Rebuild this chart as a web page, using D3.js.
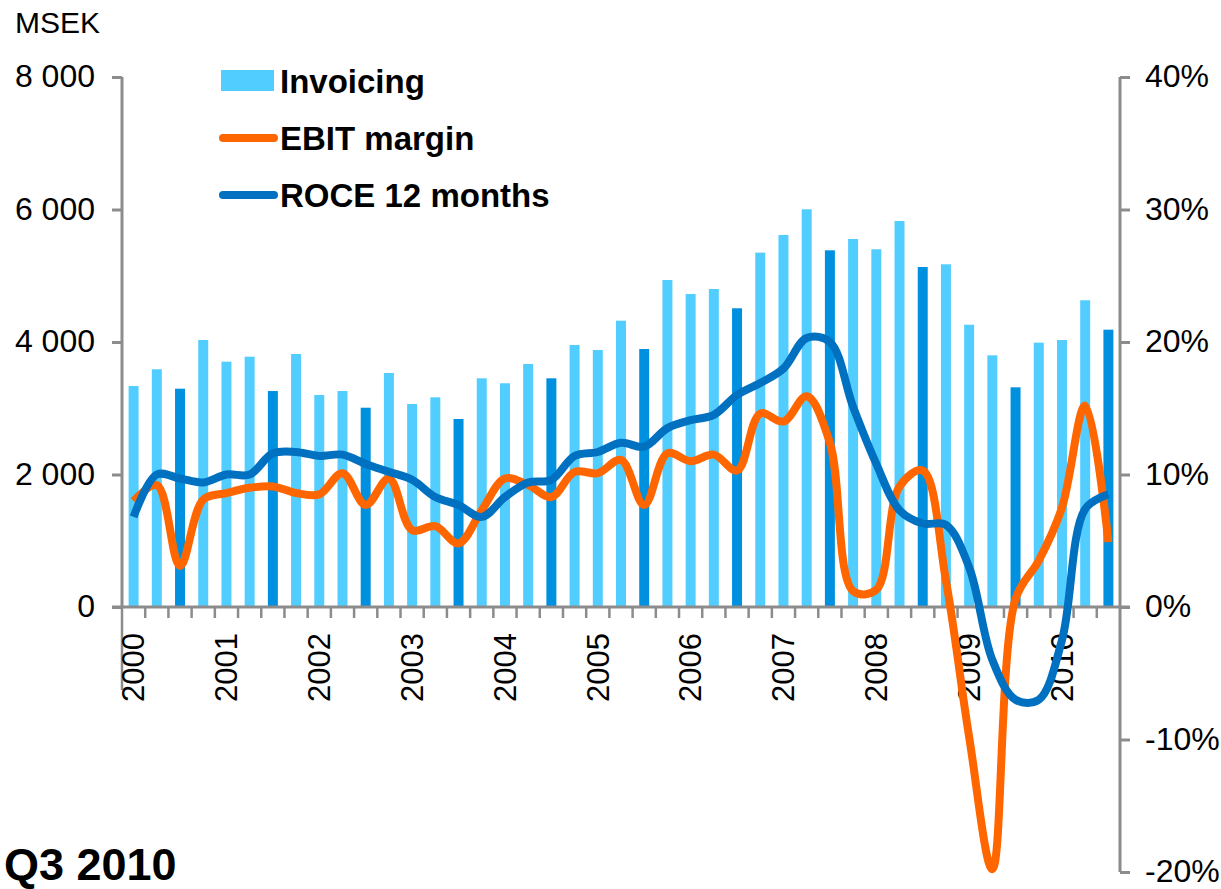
<!DOCTYPE html>
<html>
<head>
<meta charset="utf-8">
<script src="https://cdn.jsdelivr.net/npm/d3@7"></script>
<style>
  body { margin: 0; background: #fff; }
  text { font-family: "Liberation Sans", Arial, sans-serif; }
</style>
</head>
<body>
<div id="chart"></div>
<script>
var years = ['2000', '2001', '2002', '2003', '2004', '2005', '2006', '2007', '2008', '2009', '2010'];
var quarterNames = ['Q1', 'Q2', 'Q3', 'Q4'];

// Invoicing, MSEK per quarter (2000 Q1 - 2010 Q3)
var invoicing = [3336, 3588, 3295, 4030, 3703, 3778, 3260, 3819, 3200, 3260,
  3008, 3532, 3064, 3165, 2838, 3452, 3377, 3668, 3452, 3955,
  3879, 4322, 3894, 4936, 4725, 4800, 4509, 5349, 5615, 6003,
  5384, 5555, 5400, 5826, 5132, 5173, 4261, 3799, 3316, 3990,
  4030, 4630, 4186];

// EBIT margin, %
var ebitMargin = [8.0, 9.2, 3.1, 8.1, 8.6, 9.0, 9.1, 8.6, 8.5, 10.1,
  7.7, 9.7, 5.8, 6.1, 4.8, 7.3, 9.7, 9.2, 8.3, 10.2,
  10.1, 11.1, 7.7, 11.6, 11.0, 11.5, 10.3, 14.6, 14.0, 15.9,
  12.4, 1.2, 1.3, 9.1, 10.3, 2.0, -9.8, -19.8, 0.6, 3.5,
  7.5, 15.2, 4.9];

// ROCE 12 months, %
var roce = [6.8, 10.0, 9.7, 9.4, 10.0, 10.0, 11.6, 11.7, 11.4, 11.5,
  10.8, 10.2, 9.6, 8.3, 7.7, 6.8, 8.3, 9.4, 9.6, 11.4,
  11.7, 12.4, 12.1, 13.5, 14.1, 14.5, 16.0, 16.9, 18.0, 20.3,
  20.0, 15.1, 10.8, 7.3, 6.3, 6.2, 3.0, -4.0, -7.0, -7.0,
  -2.5, 7.4, 8.5];

var leftTicks = [0, 2000, 4000, 6000, 8000];
var rightTicks = [-20, -10, 0, 10, 20, 30, 40];
var legendItems = ['Invoicing', 'EBIT margin', 'ROCE 12 months'];

var quarters = [];
years.forEach(function(yr) {
  quarterNames.forEach(function(q) {
    quarters.push(yr + ' ' + q);
  });
});
quarters = quarters.slice(0, invoicing.length);

var width = 1221;
var height = 889;
var plotLeft = 122, plotRight = 1120, plotTop = 77, zeroY = 607, plotBottom = 872;

var lightBlue = '#52CDFF';
var darkBlue = '#0090E0';
var orange = '#FF6600';
var roceBlue = '#0070C0';
var axisGrey = '#8C8C8C';

var svg = d3.select('#chart')
  .append('svg')
  .attr('width', width)
  .attr('height', height);

var x = d3.scaleBand()
  .domain(quarters)
  .range([plotLeft, plotRight])
  .paddingInner(0.57)
  .paddingOuter(0.285);

var y = d3.scaleLinear()
  .domain([0, 8000])
  .range([zeroY, plotTop]);

var y2 = d3.scaleLinear()
  .domain([-20, 40])
  .range([plotBottom, plotTop]);

// bars
svg.selectAll('.bar')
  .data(invoicing)
  .enter()
  .append('rect')
  .attr('class', 'bar')
  .attr('x', function(d, i) { return x(quarters[i]); })
  .attr('width', x.bandwidth())
  .attr('y', function(d) { return y(d); })
  .attr('height', function(d) { return zeroY - y(d); })
  .attr('fill', function(d, i) { return quarters[i].slice(-2) == 'Q3' ? darkBlue : lightBlue; });

// left axis
var yAxis = d3.axisLeft(y)
  .tickValues(leftTicks)
  .tickSize(10)
  .tickPadding(17)
  .tickFormat(function(d) { return d3.format(',')(d).replace(',', ' '); });

var gLeft = svg.append('g')
  .attr('transform', 'translate(' + plotLeft + ',0)')
  .call(yAxis);

// right axis
var yAxis2 = d3.axisRight(y2)
  .tickValues(rightTicks)
  .tickSize(10)
  .tickPadding(15)
  .tickFormat(function(d) { return d + '%'; });

var gRight = svg.append('g')
  .attr('transform', 'translate(' + plotRight + ',0)')
  .call(yAxis2);

[gLeft, gRight].forEach(function(g) {
  g.select('.domain').attr('stroke', axisGrey).attr('stroke-width', 3);
  g.selectAll('.tick line').attr('stroke', axisGrey).attr('stroke-width', 3);
  g.selectAll('.tick text')
    .attr('fill', '#000')
    .style('font-size', '32px')
    .attr('dy', '0.3em');
});
gLeft.select('.domain').attr('d', 'M0,' + plotTop + 'V' + zeroY);
gRight.select('.domain').attr('d', 'M0,' + plotTop + 'V' + plotBottom);

// category axis at zero
svg.append('line')
  .attr('x1', plotLeft - 10)
  .attr('x2', plotRight + 10)
  .attr('y1', zeroY)
  .attr('y2', zeroY)
  .attr('stroke', axisGrey)
  .attr('stroke-width', 3);

var step = x.step();
svg.selectAll('.cat-tick')
  .data(quarters)
  .enter()
  .append('line')
  .attr('class', 'cat-tick')
  .attr('x1', function(d, i) { return plotLeft + step * i; })
  .attr('x2', function(d, i) { return plotLeft + step * i; })
  .attr('y1', zeroY)
  .attr('y2', function(d, i) { return i == 0 ? 690 : zeroY + 11; })
  .attr('stroke', axisGrey)
  .attr('stroke-width', 2.5);

// year labels
svg.selectAll('.year')
  .data(years)
  .enter()
  .append('text')
  .attr('class', 'year')
  .attr('transform', function(d) {
    var cx = x(d + ' Q1') + x.bandwidth() / 2;
    return 'translate(' + cx + ',633) rotate(-90)';
  })
  .attr('text-anchor', 'end')
  .attr('dy', '0.35em')
  .style('font-size', '31px')
  .text(function(d) { return d; });

// lines
var line = d3.line()
  .curve(d3.curveCatmullRom.alpha(0.5))
  .x(function(d, i) { return x(quarters[i]) + x.bandwidth() / 2; })
  .y(function(d) { return y2(d); });

svg.append('path')
  .datum(ebitMargin)
  .attr('fill', 'none')
  .attr('stroke', orange)
  .attr('stroke-width', 8)
  .attr('stroke-linejoin', 'round')
  .attr('d', line);

svg.append('path')
  .datum(roce)
  .attr('fill', 'none')
  .attr('stroke', roceBlue)
  .attr('stroke-width', 8)
  .attr('stroke-linejoin', 'round')
  .attr('d', line);

// legend
var legend = svg.append('g');
var legendColors = [lightBlue, orange, roceBlue];
legendItems.forEach(function(name, i) {
  var cy = 81 + i * 57;
  if (i == 0) {
    legend.append('rect')
      .attr('x', 221).attr('y', cy - 11)
      .attr('width', 53).attr('height', 21)
      .attr('fill', legendColors[i]);
  } else {
    legend.append('line')
      .attr('x1', 223).attr('x2', 274)
      .attr('y1', cy).attr('y2', cy)
      .attr('stroke', legendColors[i])
      .attr('stroke-width', 8)
      .attr('stroke-linecap', 'round');
  }
  legend.append('text')
    .attr('x', 280)
    .attr('y', cy + 12)
    .style('font-size', '33px')
    .style('font-weight', 'bold')
    .text(name);
});

// titles
svg.append('text')
  .attr('x', 15)
  .attr('y', 33)
  .style('font-size', '30px')
  .text('MSEK');

svg.append('text')
  .attr('x', 4)
  .attr('y', 880)
  .style('font-size', '45px')
  .style('font-weight', 'bold')
  .text('Q3 2010');
</script>
</body>
</html>
